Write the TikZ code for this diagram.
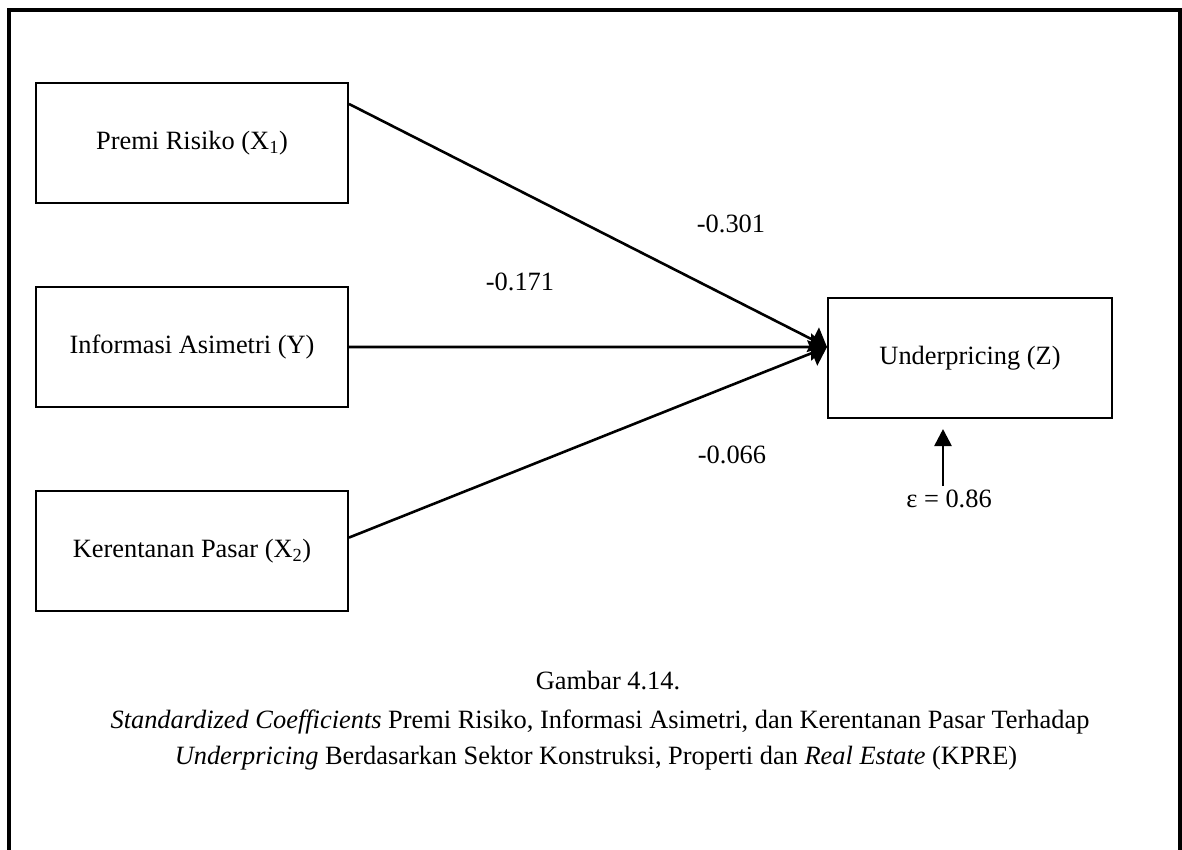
\documentclass[tikz,border=0pt]{standalone}
\usepackage{fontspec}
\setmainfont{Liberation Serif}
\usetikzlibrary{arrows.meta,calc}
\begin{document}
\begin{tikzpicture}[x=1pt,y=-1pt,
  every node/.style={font=\fontsize{26.4}{31}\selectfont},
  varbox/.style={draw,line width=2pt,minimum width=312pt,minimum height=120pt,inner sep=0pt},
  outbox/.style={draw,line width=2pt,minimum width=284pt,minimum height=120pt,inner sep=0pt},
  path/.style={line width=2.6pt,-{Triangle[length=16pt,width=27pt]}},
  errarrow/.style={line width=2.6pt,-{Triangle[length=17pt,width=17pt]}},
  coef/.style={anchor=base,inner sep=0pt},
  caption/.style={anchor=base,inner sep=0pt}]
\useasboundingbox (0,0) rectangle (1182,850);
\fill[white] (0,0) rectangle (1182,850);
% open frame (no bottom edge)
\draw[line width=4pt] (9,860) -- (9,10) -- (1180,10) -- (1180,860);

% variables
\node[varbox] (x1) at (192,143) {Premi Risiko (X\textsubscript{1})};
\node[varbox] (y)  at (192,347) {Informasi Asimetri (Y)};
\node[varbox] (x2) at (192,551) {Kerentanan Pasar (X\textsubscript{2})};
\node[outbox] (z)  at (970,358) {Underpricing (Z)};

% common arrow tip on the left side of Z
\coordinate (tip) at ($(z.north west)!0.41!(z.south west)$);

\draw[path] ($(x1.north east)!0.18!(x1.south east)$) -- (tip);
\draw[path] (y.east) -- (tip);
\draw[path] ($(x2.north east)!0.39!(x2.south east)$) -- (tip);

% path coefficients
\node[coef] (c1) at (731,233) {-0.301};
\node[coef] (c2) at (520,290) {-0.171};
\node[coef] (c3) at (732,463) {-0.066};

% error term
\node[coef] (eps) at (949,507) {ε = 0.86};
\draw[errarrow] ([xshift=-6pt,yshift=3pt]eps.north) -- ([xshift=-27pt,yshift=-10pt]z.south);

% caption
\node[caption] (cap1) at (608,689) {Gambar 4.14.};
\node[caption] (cap2) at (600,728) {\textit{Standardized Coefficients} Premi Risiko, Informasi Asimetri, dan Kerentanan Pasar Terhadap};
\node[caption] (cap3) at (596,764) {\textit{Underpricing} Berdasarkan Sektor Konstruksi, Properti dan \textit{Real Estate} (KPRE)};
\end{tikzpicture}
\end{document}
